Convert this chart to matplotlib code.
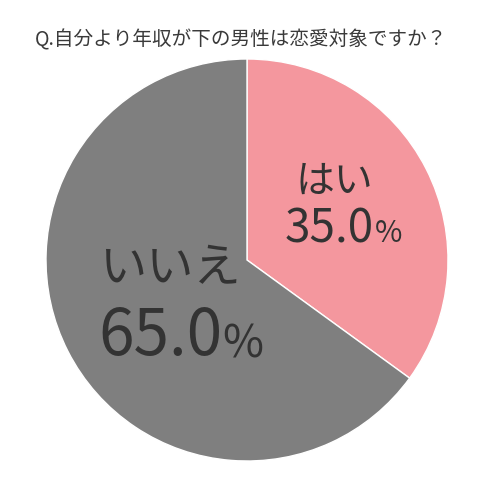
import matplotlib
matplotlib.use("Agg")
import matplotlib.pyplot as plt

plt.rcParams['font.family'] = ['Noto Sans CJK JP', 'DejaVu Sans']

# data
title = "Q.自分より年収が下の男性は恋愛対象ですか？"
labels = ["はい", "いいえ"]
values = [35.0, 65.0]
colors = ["#F4979E", "#7F7F7F"]

W, H = 496, 500
cx, cy, r = 247, H - 260, 201

fig = plt.figure(figsize=(W / 100, H / 100), dpi=100)
ax = fig.add_axes([0, 0, 1, 1])

ax.pie(values, colors=colors, startangle=90, counterclock=False,
       center=(cx, cy), radius=r,
       wedgeprops=dict(edgecolor="white", linewidth=1.0))
ax.set_xlim(0, W)
ax.set_ylim(0, H)
ax.set_aspect("equal")
ax.axis("off")

ax.text(241, H - 40, title, ha="center", va="center",
        fontsize=14.1, color="#3a3a3a")

txt = "#333333"
# はい 35.0%
ax.text(334, H - 182, labels[0], ha="center", va="center", fontsize=28, color=txt)
ax.text(374, H - 229, f"{values[0]:.1f}", ha="right", va="center", fontsize=33, color=txt)
ax.text(375, H - 234, "%", ha="left", va="center", fontsize=21.5, color=txt)

# いいえ 65.0%
ax.text(170, H - 269, labels[1], ha="center", va="center", fontsize=34, color=txt)
ax.text(222, H - 337, f"{values[1]:.1f}", ha="right", va="center", fontsize=46, color=txt)
ax.text(222, H - 345, "%", ha="left", va="center", fontsize=32, color=txt)

fig.savefig("out.png", dpi=100, facecolor="white")
